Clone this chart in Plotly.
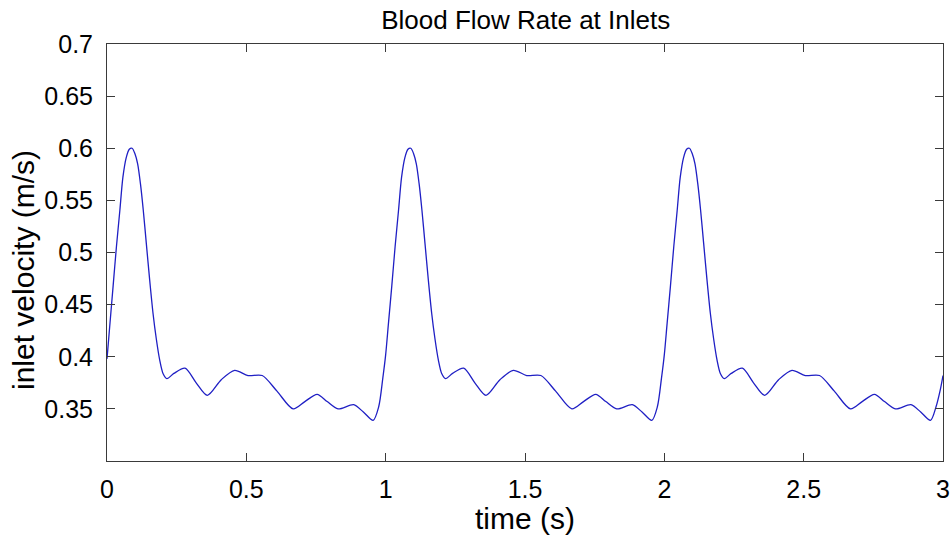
import plotly.graph_objects as go

# time (s) and inlet velocity (m/s)
time_s = [
    0.000, 0.010, 0.022, 0.034, 0.046, 0.057, 0.069, 0.080, 0.090, 0.100,
    0.110, 0.120, 0.130, 0.141, 0.153, 0.165, 0.177, 0.189, 0.201, 0.215,
    0.240, 0.280, 0.320, 0.360, 0.410, 0.458, 0.506, 0.557, 0.610, 0.668,
    0.710, 0.754, 0.790, 0.829, 0.885, 0.920, 0.955, 0.975, 0.990,
    1.000, 1.010, 1.022, 1.034, 1.046, 1.057, 1.069, 1.080, 1.090, 1.100,
    1.110, 1.120, 1.130, 1.141, 1.153, 1.165, 1.177, 1.189, 1.201, 1.215,
    1.240, 1.280, 1.320, 1.360, 1.410, 1.458, 1.506, 1.557, 1.610, 1.668,
    1.710, 1.754, 1.790, 1.829, 1.885, 1.920, 1.955, 1.975, 1.990,
    2.000, 2.010, 2.022, 2.034, 2.046, 2.057, 2.069, 2.080, 2.090, 2.100,
    2.110, 2.120, 2.130, 2.141, 2.153, 2.165, 2.177, 2.189, 2.201, 2.215,
    2.240, 2.280, 2.320, 2.360, 2.410, 2.458, 2.506, 2.557, 2.610, 2.668,
    2.710, 2.754, 2.790, 2.829, 2.885, 2.920, 2.955, 2.975, 2.990, 3.000,
]
velocity = [
    0.398, 0.430, 0.468, 0.506, 0.540, 0.572, 0.591, 0.599, 0.600, 0.595,
    0.585, 0.566, 0.541, 0.509, 0.474, 0.442, 0.417, 0.397, 0.384, 0.379,
    0.384, 0.389, 0.375, 0.363, 0.378, 0.387, 0.382, 0.382, 0.367, 0.350,
    0.357, 0.364, 0.357, 0.350, 0.354, 0.347, 0.339, 0.352, 0.380,
    0.402, 0.432, 0.468, 0.506, 0.540, 0.572, 0.591, 0.599, 0.600, 0.595,
    0.585, 0.566, 0.541, 0.509, 0.474, 0.442, 0.417, 0.397, 0.384, 0.379,
    0.384, 0.389, 0.375, 0.363, 0.378, 0.387, 0.382, 0.382, 0.367, 0.350,
    0.357, 0.364, 0.357, 0.350, 0.354, 0.347, 0.339, 0.352, 0.380,
    0.402, 0.432, 0.468, 0.506, 0.540, 0.572, 0.591, 0.599, 0.600, 0.595,
    0.585, 0.566, 0.541, 0.509, 0.474, 0.442, 0.417, 0.397, 0.384, 0.379,
    0.384, 0.389, 0.375, 0.363, 0.378, 0.387, 0.382, 0.382, 0.367, 0.350,
    0.357, 0.364, 0.357, 0.350, 0.354, 0.347, 0.339, 0.352, 0.368, 0.382,
]

x_ticks = [0, 0.5, 1, 1.5, 2, 2.5, 3]
x_ticklabels = ["0", "0.5", "1", "1.5", "2", "2.5", "3"]
y_ticks = [0.35, 0.4, 0.45, 0.5, 0.55, 0.6, 0.65, 0.7]
y_ticklabels = ["0.35", "0.4", "0.45", "0.5", "0.55", "0.6", "0.65", "0.7"]

FONT = "Liberation Sans, Arial, Helvetica, sans-serif"

fig = go.Figure()
fig.add_trace(go.Scatter(
    x=time_s, y=velocity, mode="lines",
    line=dict(color="#1f1fc4", width=1.3, shape="spline", smoothing=0.8),
    showlegend=False, hoverinfo="x+y",
))

axis_common = dict(
    showgrid=False, zeroline=False, automargin=False,
    showline=True, linecolor="#3a3a3a", linewidth=1, mirror="allticks",
    ticks="inside", ticklen=8, tickwidth=1, tickcolor="#3a3a3a",
    tickfont=dict(family=FONT, size=25, color="black"),
)

fig.update_layout(
    width=952, height=539,
    margin=dict(l=107, r=9, t=44, b=78),
    paper_bgcolor="white", plot_bgcolor="white",
    font=dict(family=FONT, color="black"),
    title=dict(text="Blood Flow Rate at Inlets", x=0.5522, xanchor="center",
               y=1 - 20 / 539, yanchor="middle", yref="container",
               font=dict(family=FONT, size=26, color="black")),
    xaxis=dict(range=[0, 3], tickvals=x_ticks, ticktext=x_ticklabels,
               ticklabelstandoff=6, **axis_common),
    yaxis=dict(range=[0.3, 0.7], tickvals=y_ticks, ticktext=y_ticklabels,
               ticklabelstandoff=8, **axis_common),
    annotations=[
        dict(text="time (s)", xref="paper", yref="paper", x=0.5, y=-0.137,
             xanchor="center", yanchor="middle", showarrow=False,
             font=dict(family=FONT, size=30, color="black")),
        dict(text="inlet velocity (m/s)", xref="paper", yref="paper",
             x=-0.1005, y=0.458, xanchor="center", yanchor="middle",
             textangle=-90, showarrow=False,
             font=dict(family=FONT, size=30, color="black")),
    ],
)

fig.write_html("out.html")
